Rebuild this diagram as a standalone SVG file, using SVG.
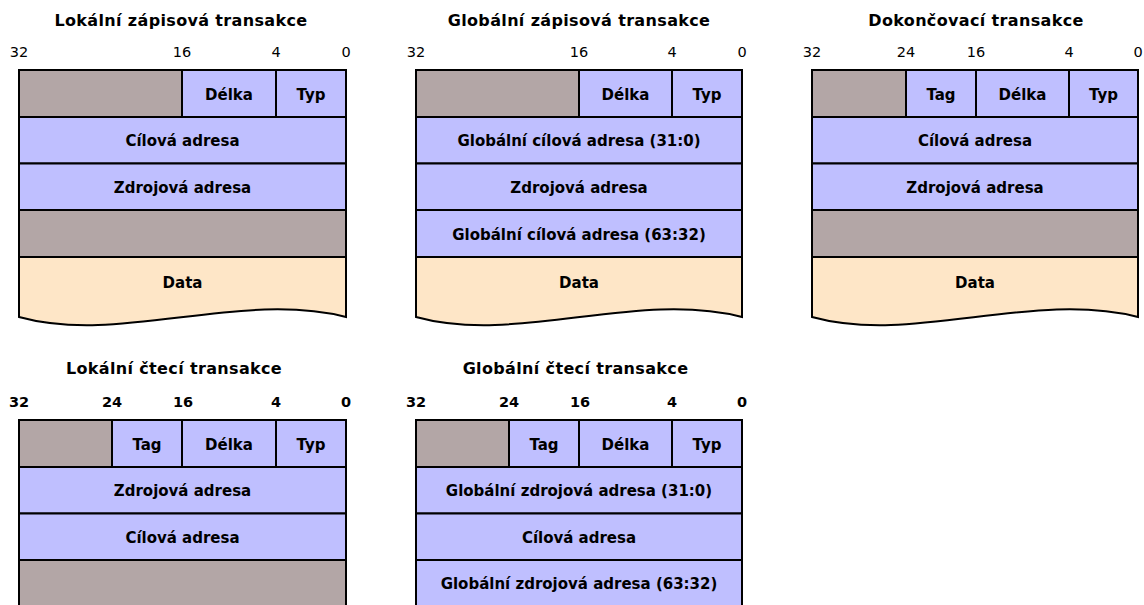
<svg xmlns="http://www.w3.org/2000/svg" width="1144" height="605" viewBox="0 0 1144 605">
  <style>
    .t { font-family: "DejaVu Sans", sans-serif; font-weight: bold; font-size: 16px; letter-spacing: 0.35px; text-anchor: middle; fill: #000; }
    .n { font-family: "DejaVu Sans", sans-serif; font-size: 14.5px; text-anchor: middle; fill: #000; }
    .nb { font-weight: bold; }
    .l { font-family: "DejaVu Sans", sans-serif; font-weight: bold; font-size: 15px; text-anchor: middle; dominant-baseline: central; fill: #000; }
    .res { fill: #b3a6a6; stroke: #000; stroke-width: 2; }
    .fld { fill: #bfbfff; stroke: #000; stroke-width: 2; }
    .dat { fill: #fee6c7; stroke: #000; stroke-width: 2; }
  </style>

  <!-- Local write transaction -->
  <g id="local-write">
    <text class="t" x="181" y="25.5">Lokální zápisová transakce</text>
    <text class="n" x="19" y="57">32</text>
    <text class="n" x="182" y="57">16</text>
    <text class="n" x="276" y="57">4</text>
    <text class="n" x="346" y="57">0</text>
    <rect class="res" x="19" y="70" width="163" height="47"/>
    <rect class="fld" x="182" y="70" width="94" height="47"/>
    <rect class="fld" x="276" y="70" width="70" height="47"/>
    <text class="l" x="229" y="94.5">Délka</text>
    <text class="l" x="311" y="94.5">Typ</text>
    <rect class="fld" x="19" y="117" width="327" height="46.5"/>
    <text class="l" x="182.5" y="141">Cílová adresa</text>
    <rect class="fld" x="19" y="163.5" width="327" height="46.5"/>
    <text class="l" x="182.5" y="188">Zdrojová adresa</text>
    <rect class="res" x="19" y="210" width="327" height="47"/>
    <path class="dat" d="M19,257 H346 V317 C240,290 120,345 19,317 Z"/>
    <text class="l" x="182.5" y="283">Data</text>
  </g>

  <!-- Global write transaction -->
  <g id="global-write">
    <text class="t" x="579" y="25.5">Globální zápisová transakce</text>
    <text class="n" x="416" y="57">32</text>
    <text class="n" x="579" y="57">16</text>
    <text class="n" x="672" y="57">4</text>
    <text class="n" x="742" y="57">0</text>
    <rect class="res" x="416" y="70" width="163" height="47"/>
    <rect class="fld" x="579" y="70" width="93" height="47"/>
    <rect class="fld" x="672" y="70" width="70" height="47"/>
    <text class="l" x="625.5" y="94.5">Délka</text>
    <text class="l" x="707" y="94.5">Typ</text>
    <rect class="fld" x="416" y="117" width="326" height="46.5"/>
    <text class="l" x="579" y="141">Globální cílová adresa (31:0)</text>
    <rect class="fld" x="416" y="163.5" width="326" height="46.5"/>
    <text class="l" x="579" y="188">Zdrojová adresa</text>
    <rect class="fld" x="416" y="210" width="326" height="47"/>
    <text class="l" x="579" y="234.5">Globální cílová adresa (63:32)</text>
    <path class="dat" d="M416,257 H742 V317 C636,290 517,345 416,317 Z"/>
    <text class="l" x="579" y="283">Data</text>
  </g>

  <!-- Completion transaction -->
  <g id="completion">
    <text class="t" x="976" y="25.5">Dokončovací transakce</text>
    <text class="n" x="812" y="57">32</text>
    <text class="n" x="906" y="57">24</text>
    <text class="n" x="976" y="57">16</text>
    <text class="n" x="1069" y="57">4</text>
    <text class="n" x="1138" y="57">0</text>
    <rect class="res" x="812" y="70" width="94" height="47"/>
    <rect class="fld" x="906" y="70" width="70" height="47"/>
    <rect class="fld" x="976" y="70" width="93" height="47"/>
    <rect class="fld" x="1069" y="70" width="69" height="47"/>
    <text class="l" x="941" y="94.5">Tag</text>
    <text class="l" x="1022.5" y="94.5">Délka</text>
    <text class="l" x="1103.5" y="94.5">Typ</text>
    <rect class="fld" x="812" y="117" width="326" height="46.5"/>
    <text class="l" x="975" y="141">Cílová adresa</text>
    <rect class="fld" x="812" y="163.5" width="326" height="46.5"/>
    <text class="l" x="975" y="188">Zdrojová adresa</text>
    <rect class="res" x="812" y="210" width="326" height="47"/>
    <path class="dat" d="M812,257 H1138 V317 C1032,290 913,345 812,317 Z"/>
    <text class="l" x="975" y="283">Data</text>
  </g>

  <!-- Local read transaction -->
  <g id="local-read">
    <text class="t" x="174" y="374">Lokální čtecí transakce</text>
    <text class="n nb" x="19" y="407">32</text>
    <text class="n nb" x="112" y="407">24</text>
    <text class="n nb" x="183" y="407">16</text>
    <text class="n nb" x="276" y="407">4</text>
    <text class="n nb" x="346" y="407">0</text>
    <rect class="res" x="19" y="420" width="93" height="47"/>
    <rect class="fld" x="112" y="420" width="70" height="47"/>
    <rect class="fld" x="182" y="420" width="94" height="47"/>
    <rect class="fld" x="276" y="420" width="70" height="47"/>
    <text class="l" x="147" y="444.5">Tag</text>
    <text class="l" x="229" y="444.5">Délka</text>
    <text class="l" x="311" y="444.5">Typ</text>
    <rect class="fld" x="19" y="467" width="327" height="46.5"/>
    <text class="l" x="182.5" y="491">Zdrojová adresa</text>
    <rect class="fld" x="19" y="513.5" width="327" height="46.5"/>
    <text class="l" x="182.5" y="538">Cílová adresa</text>
    <rect class="res" x="19" y="560" width="327" height="60"/>
  </g>

  <!-- Global read transaction -->
  <g id="global-read">
    <text class="t" x="575.5" y="374">Globální čtecí transakce</text>
    <text class="n nb" x="416" y="407">32</text>
    <text class="n nb" x="509" y="407">24</text>
    <text class="n nb" x="580" y="407">16</text>
    <text class="n nb" x="672" y="407">4</text>
    <text class="n nb" x="742" y="407">0</text>
    <rect class="res" x="416" y="420" width="93" height="47"/>
    <rect class="fld" x="509" y="420" width="70" height="47"/>
    <rect class="fld" x="579" y="420" width="93" height="47"/>
    <rect class="fld" x="672" y="420" width="70" height="47"/>
    <text class="l" x="544" y="444.5">Tag</text>
    <text class="l" x="625.5" y="444.5">Délka</text>
    <text class="l" x="707" y="444.5">Typ</text>
    <rect class="fld" x="416" y="467" width="326" height="46.5"/>
    <text class="l" x="579" y="491">Globální zdrojová adresa (31:0)</text>
    <rect class="fld" x="416" y="513.5" width="326" height="46.5"/>
    <text class="l" x="579" y="538">Cílová adresa</text>
    <rect class="fld" x="416" y="560" width="326" height="60"/>
    <text class="l" x="579" y="584">Globální zdrojová adresa (63:32)</text>
  </g>
</svg>
